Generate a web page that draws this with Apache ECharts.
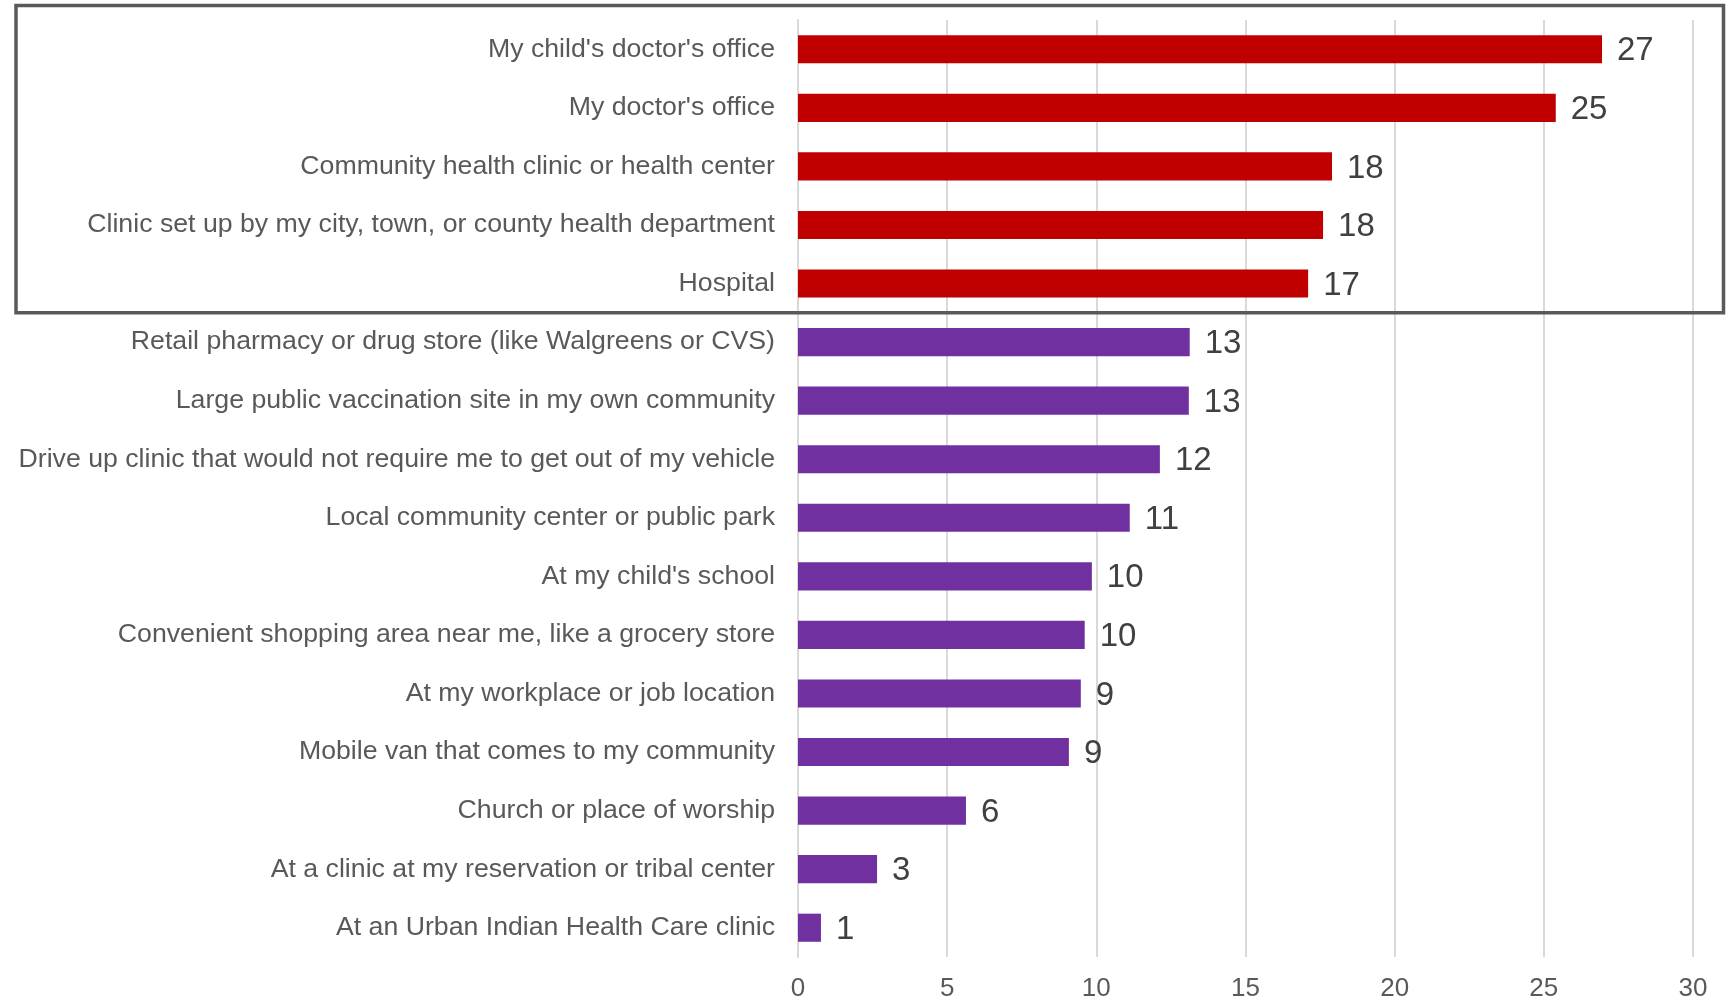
<!DOCTYPE html>
<html>
<head>
<meta charset="utf-8">
<title>Vaccination location preference</title>
<script src="https://cdn.jsdelivr.net/npm/echarts@6/dist/echarts.min.js"></script>
<style>
    html, body { margin: 0; padding: 0; background: #fff; }
    #main { width: 1729px; height: 1001px; }
</style>
</head>
<body>
<div id="main"></div>
<script>
// categories, top to bottom
var categories = [
    "My child's doctor's office",
    "My doctor's office",
    "Community health clinic or health center",
    "Clinic set up by my city, town, or county health department",
    "Hospital",
    "Retail pharmacy or drug store (like Walgreens or CVS)",
    "Large public vaccination site in my own community",
    "Drive up clinic that would not require me to get out of my vehicle",
    "Local community center or public park",
    "At my child's school",
    "Convenient shopping area near me, like a grocery store",
    "At my workplace or job location",
    "Mobile van that comes to my community",
    "Church or place of worship",
    "At a clinic at my reservation or tribal center",
    "At an Urban Indian Health Care clinic"
];
// percent (labels show rounded values)
var values = [26.95, 25.4, 17.9, 17.6, 17.1, 13.13, 13.1, 12.13, 11.12, 9.85, 9.61, 9.48, 9.08, 5.63, 2.65, 0.77];
var xTicks = [0, 5, 10, 15, 20, 25, 30];
var highlightCount = 5; // first rows boxed and drawn in red

var chart = echarts.init(document.getElementById('main'));

var option = {
    animation: false,
    grid: {
        left: 798,
        right: 36,
        top: 20,
        bottom: 44,
        outerBoundsMode: 'none' // keep the plot area fixed, labels may sit near the edge
    },
    xAxis: {
        type: 'value',
        min: xTicks[0],
        max: xTicks[xTicks.length - 1],
        interval: 5,
        axisLine: { show: false },
        axisTick: { show: false },
        axisLabel: {
            color: '#595959',
            fontFamily: 'Liberation Sans, Arial, sans-serif',
            fontSize: 26,
            margin: 19
        },
        splitLine: {
            lineStyle: { color: '#D9D9D9', width: 2 }
        }
    },
    yAxis: {
        type: 'category',
        inverse: true,
        data: categories,
        axisLine: {
            lineStyle: { color: '#D9D9D9', width: 2 }
        },
        axisTick: {
            length: 6,
            lineStyle: { color: '#D9D9D9', width: 2 }
        },
        axisLabel: {
            color: '#595959',
            fontFamily: 'Liberation Sans, Arial, sans-serif',
            fontSize: 26.7,
            margin: 23,
            padding: [3, 0, 0, 0]
        }
    },
    series: [{
        type: 'bar',
        data: values,
        barWidth: '48%',
        itemStyle: {
            color: function (p) {
                return p.dataIndex < highlightCount ? '#C00000' : '#7030A0';
            }
        },
        label: {
            show: true,
            position: 'right',
            distance: 15,
            offset: [0, 2],
            color: '#404040',
            fontFamily: 'Liberation Sans, Arial, sans-serif',
            fontSize: 33,
            formatter: function (p) {
                return Math.round(p.value);
            }
        }
    }]
};
chart.setOption(option);

// frame round the highlighted rows, bottom on the band edge under the last one
var yLast = chart.convertToPixel({ yAxisIndex: 0 }, categories[highlightCount - 1]);
var yNext = chart.convertToPixel({ yAxisIndex: 0 }, categories[highlightCount]);
var frameBottom = (yLast + yNext) / 2;

chart.setOption({
    graphic: [{
        type: 'rect',
        shape: { x: 16, y: 5.5, width: 1707.5, height: frameBottom - 5.5 },
        style: { fill: 'none', stroke: '#595959', lineWidth: 3.5 },
        z: 100
    }]
});
</script>
</body>
</html>
